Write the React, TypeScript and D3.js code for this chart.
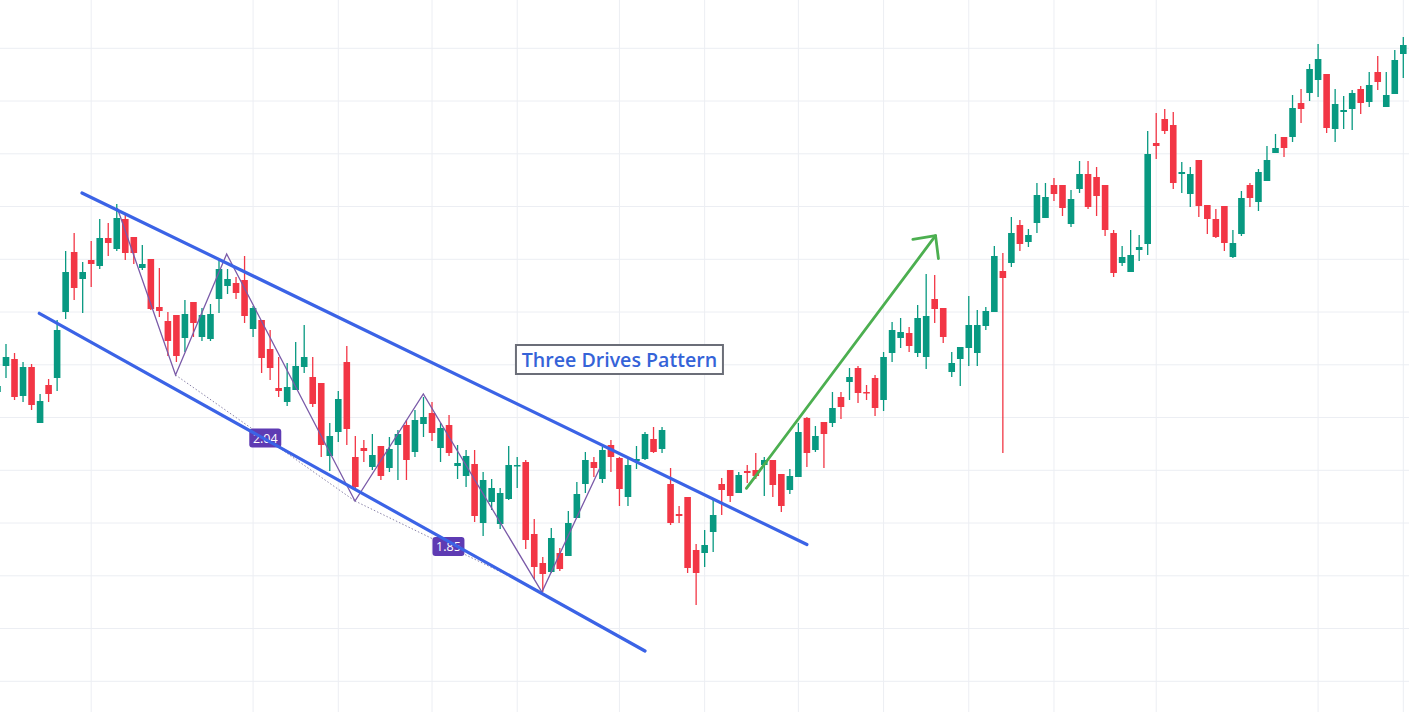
import React from "react";
import * as d3 from "d3";

// OHLC series (price units), candle index 0..165
const opens = [608,634,641,604,633,577,615,622,688,748,721,740,734,762,751,781,763,732,741,693,679,685,662,698,663,661,701,714,717,720,671,680,651,612,598,610,633,623,617,544,568,638,543,552,533,554,532,555,575,548,576,587,552,575,534,524,536,477,498,476,501,534,538,466,437,428,447,444,482,516,538,521,555,542,503,539,541,561,551,516,486,503,450,447,468,516,530,507,529,530,535,540,526,510,523,582,550,578,577,603,618,632,608,622,600,647,662,667,647,643,701,692,628,641,652,647,674,688,729,737,775,758,777,782,815,815,776,811,826,823,815,767,737,728,750,756,857,881,875,826,806,840,795,781,794,743,766,815,798,819,847,863,863,897,907,920,926,871,888,891,911,898,928,893,906,946];
const highs = [620,656,647,638,636,606,621,680,749,767,738,759,781,777,796,787,763,755,741,732,688,685,700,698,692,696,740,731,723,744,694,680,670,643,637,658,675,643,617,577,609,654,564,560,566,554,563,570,580,590,603,598,577,585,555,550,550,528,521,512,554,543,540,481,443,472,452,489,518,548,543,553,560,543,541,554,568,573,573,532,494,503,456,470,500,522,530,528,535,547,543,540,526,531,577,583,574,578,608,608,632,634,615,625,648,678,682,673,695,726,725,692,648,653,704,690,693,754,747,783,780,771,817,817,822,815,810,839,839,833,815,770,754,770,765,869,887,891,888,838,833,840,795,791,794,770,809,817,831,854,866,863,905,911,936,956,926,911,904,910,914,928,944,928,950,963];
const lows = [604,622,600,598,590,577,598,609,681,700,687,713,731,744,749,740,736,730,690,683,644,638,648,663,659,659,687,706,701,677,663,627,620,603,594,610,627,593,543,529,558,555,511,538,530,520,528,520,520,543,563,559,538,544,521,513,478,464,490,471,500,512,451,421,408,427,429,444,482,507,523,517,528,494,494,531,540,547,547,475,477,427,395,433,448,485,498,507,517,521,504,503,488,506,523,533,548,532,573,581,600,597,600,584,589,638,652,648,643,631,677,657,623,614,634,634,670,688,547,733,749,753,767,782,799,784,773,807,791,784,764,723,734,728,739,745,841,866,811,807,793,783,766,762,749,742,764,793,789,819,847,843,858,877,899,903,867,858,871,870,886,893,910,893,906,922];
const closes = [614,643,603,633,595,599,606,670,728,712,728,736,762,757,782,747,747,736,691,689,659,644,686,677,685,686,731,721,707,684,692,642,632,609,613,634,643,596,555,564,601,571,513,549,545,524,551,566,540,580,583,567,572,547,537,544,484,520,512,507,535,535,460,433,426,462,431,477,506,540,532,550,543,511,535,541,566,548,570,477,484,432,427,455,485,510,504,525,527,524,540,515,494,524,568,547,564,566,592,593,623,607,607,592,643,670,668,654,682,684,691,663,637,653,675,675,689,744,722,767,756,765,805,803,806,792,801,826,793,804,770,727,743,745,753,846,854,869,817,828,826,794,781,763,757,757,802,802,828,840,852,852,892,891,931,941,872,896,890,907,897,915,918,905,940,955];

// horizontal grid prices and vertical grid candle indices
const gridPrices = [951.7, 899, 846.2, 793.5, 740.7, 688, 635.2, 582.5, 529.7, 477, 424.2, 371.5, 318.7];
const gridTimes = [11, 30, 40, 51, 61, 73, 83, 94, 104, 114, 124, 136, 155, 165];

// drawings (candle index, price)
const upperChannel = [[9.92, 807], [95.0, 455.5]];
const lowerChannel = [[4.91, 686.7], [76.0, 349]];
const drivesPoints = [[14.06, 792], [20.9, 625], [26.9, 746], [41.96, 499], [49.98, 606], [63.9, 408], [70.7, 532]];
const driveRatios = ["2.04", "1.85"];
const arrowLine = [[87.9, 511.7], [110.1, 764.3]];
const titleText = "Three Drives Pattern";
const titleAnchor = [73.0, 640.5];

const W = 1409;
const H = 712;
const UP = "#089981";
const DOWN = "#F23645";

export default function App() {
  const x = d3.scaleLinear().domain([0, 165]).range([-2.52, 1403.3]);
  const y = d3.scaleLinear().domain([288, 1000]).range([H, 0]);
  const bodyW = 6.6;
  const line = d3.line<number[]>().x((d) => x(d[0])).y((d) => y(d[1]));

  const candles = opens.map((o, i) => ({ o, h: highs[i], l: lows[i], c: closes[i], i }));

  // arrow head
  const [a0, a1] = arrowLine;
  const tx = x(a1[0]), ty = y(a1[1]);
  const ang = Math.atan2(y(a0[1]) - ty, x(a0[0]) - tx);
  const headLen = 23;
  const spread = (44 * Math.PI) / 180;
  const h1 = [tx + headLen * Math.cos(ang - spread), ty + headLen * Math.sin(ang - spread)];
  const h2 = [tx + headLen * Math.cos(ang + spread), ty + headLen * Math.sin(ang + spread)];

  const dotted = [
    [drivesPoints[1], drivesPoints[3]],
    [drivesPoints[3], drivesPoints[5]],
  ];

  return (
    <svg
      width={W}
      height={H}
      style={{ position: "absolute", left: 0, top: 0, background: "#ffffff" }}
    >
      <rect x={0} y={0} width={W} height={H} fill="#ffffff" />
      <g>
        {gridPrices.map((p, k) => (
          <line key={"h" + k} x1={0} x2={W} y1={y(p)} y2={y(p)} stroke="#eceef3" strokeWidth={1} />
        ))}
        {gridTimes.map((t, k) => (
          <line key={"v" + k} x1={x(t)} x2={x(t)} y1={0} y2={H} stroke="#eceef3" strokeWidth={1} />
        ))}
      </g>
      <g>
        {candles.map((d) => {
          const col = d.c >= d.o ? UP : DOWN;
          const top = y(Math.max(d.o, d.c));
          const bot = y(Math.min(d.o, d.c));
          return (
            <g key={d.i}>
              <line x1={x(d.i)} x2={x(d.i)} y1={y(d.h)} y2={y(d.l)} stroke={col} strokeWidth={1.3} />
              <rect x={x(d.i) - bodyW / 2} y={top} width={bodyW} height={Math.max(1.5, bot - top)} fill={col} />
            </g>
          );
        })}
      </g>
      <g>
        {dotted.map((seg, k) => (
          <path key={"d" + k} d={line(seg) || ""} fill="none" stroke="#8b84a8" strokeWidth={1} strokeDasharray="1.5 2" />
        ))}
        <path d={line(drivesPoints) || ""} fill="none" stroke="#7a5aa8" strokeWidth={1.3} />
        {dotted.map((seg, k) => {
          const mx = (x(seg[0][0]) + x(seg[1][0])) / 2;
          const my = (y(seg[0][1]) + y(seg[1][1])) / 2;
          return (
            <g key={"l" + k}>
              <rect x={mx - 16} y={my - 9.5} width={32} height={19} rx={3} fill="#5e3bb3" />
              <text
                x={mx}
                y={my + 4.5}
                textAnchor="middle"
                fontFamily="'Open Sans', sans-serif"
                fontSize={12.5}
                fill="#ffffff"
              >
                {driveRatios[k]}
              </text>
            </g>
          );
        })}
      </g>
      <g>
        <path d={line(upperChannel) || ""} stroke="#3b63e6" strokeWidth={3.2} fill="none" strokeLinecap="round" />
        <path d={line(lowerChannel) || ""} stroke="#3b63e6" strokeWidth={3.2} fill="none" strokeLinecap="round" />
      </g>
      <g stroke="#4caf50" strokeWidth={2.8} fill="none" strokeLinecap="round" strokeLinejoin="round">
        <path d={line(arrowLine) || ""} />
        <path d={`M${h1[0]},${h1[1]}L${tx},${ty}L${h2[0]},${h2[1]}`} />
      </g>
      <g>
        <rect
          x={x(titleAnchor[0]) - 103.5}
          y={y(titleAnchor[1]) - 14.5}
          width={207}
          height={29}
          fill="#ffffff"
          stroke="#6b6e78"
          strokeWidth={2}
        />
        <text
          x={x(titleAnchor[0])}
          y={y(titleAnchor[1]) + 7}
          textAnchor="middle"
          fontFamily="'Open Sans', sans-serif"
          fontWeight={600}
          fontSize={19.6}
          fill="#3563d8"
        >
          {titleText}
        </text>
      </g>
    </svg>
  );
}
